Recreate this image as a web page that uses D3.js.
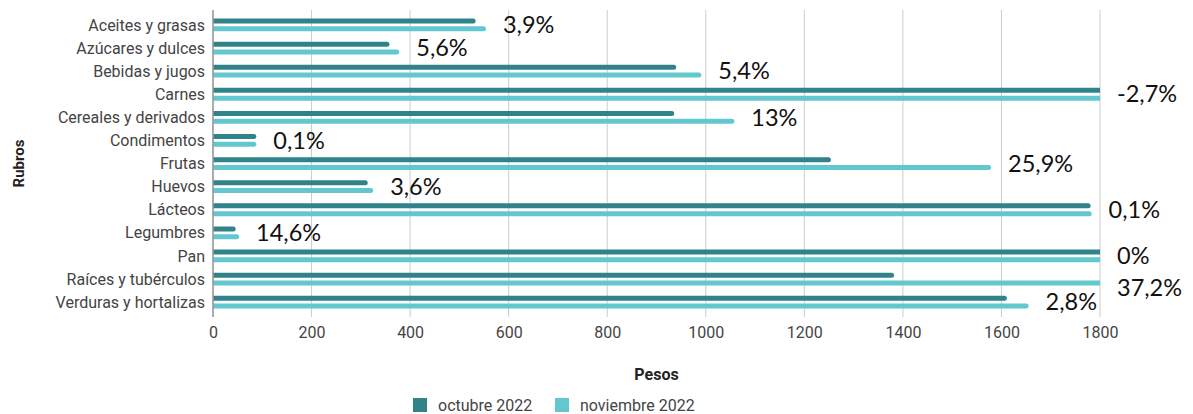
<!DOCTYPE html>
<html>
<head>
<meta charset="utf-8">
<script src="https://cdn.jsdelivr.net/npm/d3@7"></script>
<style>
  body { margin: 0; background: #fff; }
  svg { display: block; }
  .tick text { font-family: Roboto, sans-serif; }
</style>
</head>
<body>
<div id="chart"></div>
<script>
// Rubros y precios en pesos
const categories = ['Aceites y grasas', 'Azúcares y dulces', 'Bebidas y jugos', 'Carnes',
  'Cereales y derivados', 'Condimentos', 'Frutas', 'Huevos', 'Lácteos', 'Legumbres',
  'Pan', 'Raíces y tubérculos', 'Verduras y hortalizas'];
const octubre = [533, 358, 940, 2200, 936, 88, 1254, 314, 1781, 46, 2000, 1382, 1611];
const noviembre = [554, 378, 991, 2141, 1058, 88, 1579, 325, 1783, 53, 2000, 1896, 1655];
const variacion = ['3,9%', '5,6%', '5,4%', '-2,7%', '13%', '0,1%', '25,9%', '3,6%',
  '0,1%', '14,6%', '0%', '37,2%', '2,8%'];
const seriesNames = ['octubre 2022', 'noviembre 2022'];
const xTicks = [0, 200, 400, 600, 800, 1000, 1200, 1400, 1600, 1800];

const colors = ['#2f8389', '#63c7cf'];

const width = 1193, height = 414;
const margin = { top: 10, right: 93, bottom: 97, left: 213 };
const innerW = width - margin.left - margin.right;
const innerH = height - margin.top - margin.bottom;

const rows = categories.map((c, i) => ({
  name: c, values: [octubre[i], noviembre[i]], label: variacion[i]
}));

const svg = d3.select('#chart').append('svg')
  .attr('width', width).attr('height', height);

const chart = svg.append('g')
  .attr('transform', `translate(${margin.left},${margin.top})`);

const xScale = d3.scaleLinear().domain([0, 1800]).range([0, innerW]);
const yScale = d3.scaleBand().domain(categories).range([3.4, innerH - 3.3]);
const subScale = d3.scaleBand().domain([0, 1])
  .range([yScale.bandwidth() / 2 - 7.8, yScale.bandwidth() / 2 + 7.8]);
const barH = 5;

// gridlines
chart.append('g').selectAll('line')
  .data(xTicks)
  .join('line')
  .attr('x1', d => xScale(d)).attr('x2', d => xScale(d))
  .attr('y1', 0).attr('y2', innerH)
  .attr('stroke', '#cccccc').attr('stroke-width', 1);

svg.append('clipPath').attr('id', 'plot')
  .append('rect').attr('x', 0).attr('y', 0).attr('width', innerW).attr('height', innerH);

const bars = chart.append('g').attr('clip-path', 'url(#plot)');

bars.selectAll('g')
  .data(rows)
  .join('g')
  .attr('transform', d => `translate(0,${yScale(d.name)})`)
  .selectAll('rect')
  .data(d => d.values.map((v, i) => ({ v, i })))
  .join('rect')
  .attr('x', -3)
  .attr('y', d => subScale(d.i) + subScale.bandwidth() / 2 - barH / 2)
  .attr('height', barH)
  .attr('width', d => xScale(d.v) + 3)
  .attr('rx', barH / 2)
  .attr('fill', d => colors[d.i]);

// left axis line
chart.append('line')
  .attr('x1', 0).attr('x2', 0).attr('y1', 0).attr('y2', innerH)
  .attr('stroke', '#999').attr('stroke-width', 1.5);

// category labels
chart.append('g').selectAll('text')
  .data(categories)
  .join('text')
  .attr('x', -8)
  .attr('y', d => yScale(d) + yScale.bandwidth() / 2)
  .attr('dy', '0.35em')
  .attr('text-anchor', 'end')
  .attr('font-family', 'Roboto, sans-serif')
  .attr('font-size', 16)
  .attr('fill', '#444')
  .text(d => d);

// x axis ticks
const xAxis = chart.append('g')
  .attr('transform', `translate(0,${innerH})`)
  .call(d3.axisBottom(xScale).tickValues(xTicks).tickFormat(d3.format('d'))
    .tickSize(0).tickPadding(10));
xAxis.select('.domain').remove();
xAxis.selectAll('text').attr('font-size', 16).attr('fill', '#444');

// variation labels, pushed down when they would collide with the one above
const labels = chart.append('g').selectAll('text')
  .data(rows)
  .join('text')
  .attr('x', d => xScale(Math.min(d3.max(d.values), 1800)) + 17)
  .attr('y', d => yScale(d.name) + yScale.bandwidth() / 2)
  .attr('dy', '0.35em')
  .attr('font-family', 'Lato, sans-serif')
  .attr('font-size', 23.5)
  .attr('fill', '#111')
  .text(d => d.label);

let placed = [];
labels.each(function () {
  const t = d3.select(this);
  const x0 = +t.attr('x'), x1 = x0 + this.getComputedTextLength();
  let y = +t.attr('y');
  placed.forEach(p => {
    if (x0 < p.x1 && x1 > p.x0 && y - p.y < 28) y = p.y + 32;
  });
  t.attr('y', y);
  placed.push({ x0, x1, y });
});

// axis titles
svg.append('text')
  .attr('x', margin.left + innerW / 2).attr('y', 380)
  .attr('text-anchor', 'middle')
  .attr('font-family', 'Roboto, sans-serif').attr('font-weight', 'bold')
  .attr('font-size', 16).attr('fill', '#222')
  .text('Pesos');

svg.append('text')
  .attr('transform', `translate(24,${margin.top + innerH / 2}) rotate(-90)`)
  .attr('text-anchor', 'middle')
  .attr('font-family', 'Roboto, sans-serif').attr('font-weight', 'bold')
  .attr('font-size', 15).attr('fill', '#222')
  .text('Rubros');

// legend
const legend = svg.append('g').attr('transform', 'translate(413,398)');
const legendX = [0, 142];
seriesNames.forEach((name, i) => {
  const item = legend.append('g').attr('transform', `translate(${legendX[i]},0)`);
  item.append('rect').attr('width', 14).attr('height', 14).attr('fill', colors[i]);
  item.append('text')
    .attr('x', 25).attr('y', 7).attr('dy', '0.35em')
    .attr('font-family', 'Roboto, sans-serif').attr('font-size', 16)
    .attr('fill', '#444')
    .text(name);
});
</script>
</body>
</html>
